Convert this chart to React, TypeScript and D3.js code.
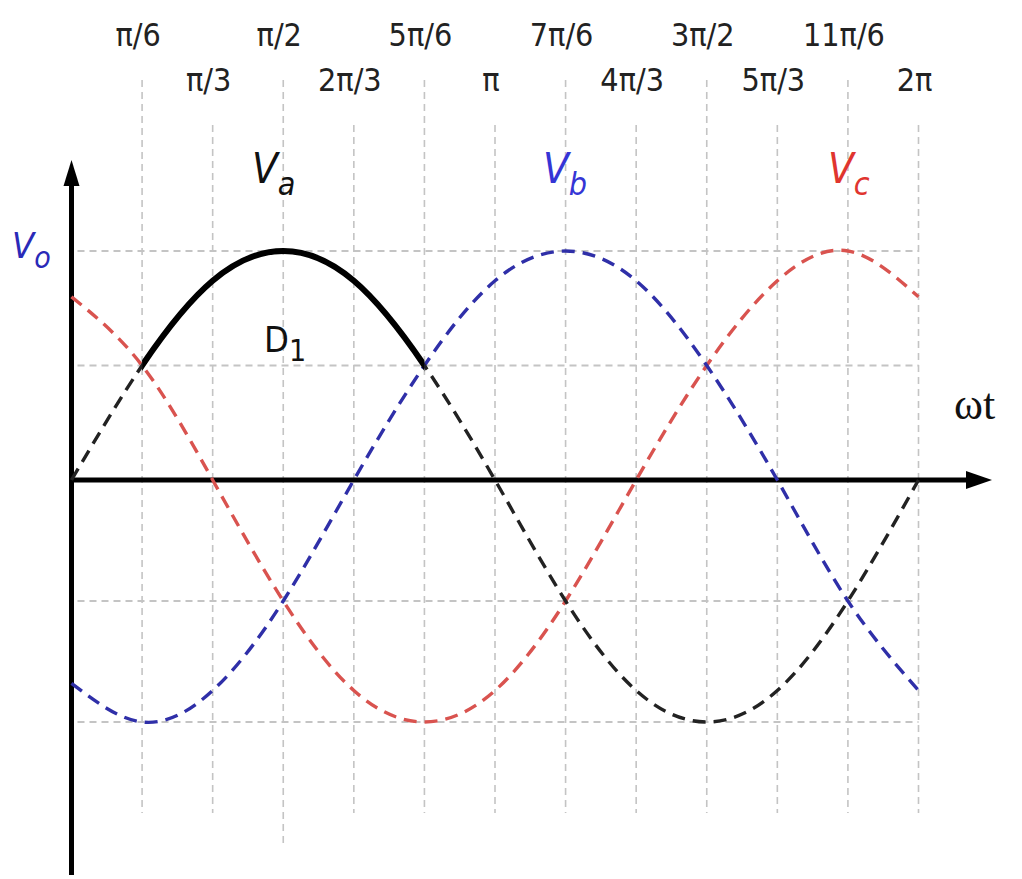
import React from "react";
import * as d3 from "d3";

// Phase angle in steps of π/6 across one full period
const angleSteps = [0, 1, 2, 3, 4, 5, 6, 7, 8, 9, 10, 11, 12];
const tickLabels = ["π/6", "π/3", "π/2", "2π/3", "5π/6", "π", "7π/6", "4π/3", "3π/2", "5π/3", "11π/6", "2π"];

// Per-unit phase voltages at each step
const vaValues = [0, 0.5, 0.87, 1, 0.87, 0.5, 0, -0.5, -0.87, -1, -0.87, -0.5, 0];
const vbValues = [-0.84, -1, -0.87, -0.5, 0, 0.5, 0.87, 1, 0.87, 0.5, 0, -0.5, -0.87];
const vcValues = [0.8, 0.5, 0, -0.5, -0.87, -1, -0.87, -0.5, 0, 0.5, 0.87, 1, 0.8];

// Conduction interval of diode D1 (in π/6 steps)
const d1Interval = [1, 5];

const gridLevels = [1, 0.5, -0.5, -1];

const W = 1022;
const H = 879;

const x = d3.scaleLinear().domain([0, 12]).range([71.5, 918.5]);
const y = d3.scaleLinear().domain([-1, 0, 1]).range([722, 480, 251]);

const LABEL_FONT = "'Liberation Sans Narrow', 'DejaVu Sans Condensed', 'Liberation Sans', sans-serif";

function pathFor(values: number[]) {
  const line = d3
    .line<number>()
    .x((_, i) => x(angleSteps[i]))
    .y((v) => y(v))
    .curve(d3.curveNatural);
  return line(values) || "";
}

export default function App() {
  const xAxisY = y(0);
  const axisX = x(0);
  const dash = "13 8";

  return (
    <div style={{ position: "absolute", left: 0, top: 0 }}>
      <svg width={W} height={H} viewBox={`0 0 ${W} ${H}`} style={{ display: "block", background: "#fff" }}>
        <defs>
          <clipPath id="d1-on">
            <rect x={x(d1Interval[0])} y={0} width={x(d1Interval[1]) - x(d1Interval[0])} height={H} />
          </clipPath>
          <clipPath id="d1-off">
            <rect x={0} y={0} width={x(d1Interval[0])} height={H} />
            <rect x={x(d1Interval[1])} y={0} width={W - x(d1Interval[1])} height={H} />
          </clipPath>
        </defs>

        {/* horizontal grid */}
        {gridLevels.map((g) => (
          <line
            key={`h${g}`}
            x1={axisX + 6}
            x2={x(12)}
            y1={y(g)}
            y2={y(g)}
            stroke="#c4c4c4"
            strokeWidth={2}
            strokeDasharray="7 5"
          />
        ))}

        {/* vertical grid */}
        {tickLabels.map((t, i) => (
          <line
            key={`v${t}`}
            x1={x(i + 1)}
            x2={x(i + 1)}
            y1={i % 2 === 0 ? 80 : 125}
            y2={i === 2 ? 843 : 813}
            stroke="#c4c4c4"
            strokeWidth={1.6}
            strokeDasharray="7 5"
          />
        ))}

        {/* tick labels in two staggered rows */}
        {tickLabels.map((t, i) => (
          <text
            key={`t${t}`}
            x={x(i + 1) - 4}
            y={i % 2 === 0 ? 46 : 91}
            textAnchor="middle"
            fontFamily={LABEL_FONT}
            fontSize={32}
            fill="#222"
          >
            {t}
          </text>
        ))}

        {/* axes */}
        <line x1={axisX} x2={axisX} y1={875} y2={178} stroke="#000" strokeWidth={5} />
        <path d={`M${axisX},160 L${axisX - 8},186 L${axisX + 8},186 Z`} fill="#000" />
        <line x1={axisX - 2} x2={972} y1={xAxisY} y2={xAxisY} stroke="#000" strokeWidth={5} />
        <path d={`M992,${xAxisY} L966,${xAxisY - 9} L966,${xAxisY + 9} Z`} fill="#000" />

        {/* phase voltages */}
        <path d={pathFor(vcValues)} fill="none" stroke="#d9534f" strokeWidth={3.4} strokeDasharray={dash} />
        <path d={pathFor(vbValues)} fill="none" stroke="#2f2fa8" strokeWidth={3.4} strokeDasharray={dash} />
        <path
          d={pathFor(vaValues)}
          fill="none"
          stroke="#222"
          strokeWidth={3.4}
          strokeDasharray={dash}
          clipPath="url(#d1-off)"
        />
        <path d={pathFor(vaValues)} fill="none" stroke="#000" strokeWidth={6} clipPath="url(#d1-on)" />

        {/* curve labels */}
        <text x={252} y={183} fontFamily={LABEL_FONT} fontStyle="italic" fontSize={42} fill="#111">
          V<tspan fontSize={32} dy={12}>a</tspan>
        </text>
        <text x={543} y={183} fontFamily={LABEL_FONT} fontStyle="italic" fontSize={42} fill="#3535d5">
          V<tspan fontSize={32} dy={12}>b</tspan>
        </text>
        <text x={828} y={183} fontFamily={LABEL_FONT} fontStyle="italic" fontSize={42} fill="#e0352f">
          V<tspan fontSize={32} dy={12}>c</tspan>
        </text>
        <text x={12} y={258} fontFamily={LABEL_FONT} fontStyle="italic" fontSize={36} fill="#2a2ab8">
          V<tspan fontSize={30} dy={10}>o</tspan>
        </text>
        <text x={264} y={352} fontFamily={LABEL_FONT} fontSize={36} fill="#111">
          D<tspan fontSize={30} dy={9}>1</tspan>
        </text>
        <text x={954} y={419} fontFamily="'Liberation Serif', 'DejaVu Serif', serif" fontSize={44} fill="#111">
          ωt
        </text>
      </svg>
    </div>
  );
}
